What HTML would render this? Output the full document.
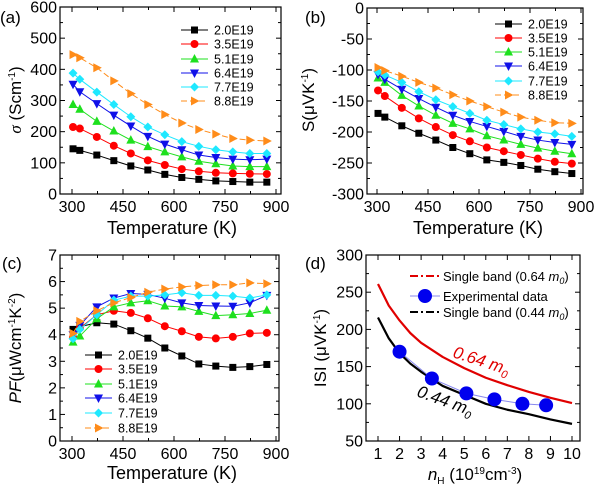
<!DOCTYPE html>
<html><head><meta charset="utf-8"><style>
html,body{margin:0;padding:0;background:#fff;}
svg{display:block;font-family:"Liberation Sans",sans-serif;}
</style></head><body>
<svg id="fig" width="600" height="492" viewBox="0 0 600 492" xmlns="http://www.w3.org/2000/svg"></svg>
<script>
const temps=[303,323,373,423,473,523,573,623,673,723,773,823,873];
const seriesNames=["2.0E19","3.5E19","5.1E19","6.4E19","7.7E19","8.8E19"];
const sigma0=[145,140,125,107,90,77,63,53,47,42,40,38,38];
const sigma1=[215,210,183,155,130,108,93,80,73,68,66,65,64];
const sigma2=[287,272,233,202,173,152,135,119,105,97,90,88,88];
const sigma3=[352,328,290,253,218,185,160,142,125,117,112,110,112];
const sigma4=[388,368,327,287,248,215,190,168,153,142,135,130,130];
const sigma5=[447,437,405,363,322,287,255,228,207,192,178,173,170];
const seeb0=[-170,-176,-190,-202,-213,-225,-235,-245,-249,-254,-260,-264,-267];
const seeb1=[-133,-142,-161,-178,-192,-205,-215,-225,-231,-237,-243,-248,-251];
const seeb2=[-113,-120,-141,-158,-173,-186,-195,-206,-213,-220,-226,-231,-235];
const seeb3=[-107,-115,-131,-146,-160,-173,-183,-191,-199,-207,-213,-217,-220];
const seeb4=[-103,-108,-120,-135,-148,-159,-170,-181,-188,-195,-200,-203,-207];
const seeb5=[-96,-101,-110,-120,-129,-140,-150,-159,-168,-176,-181,-185,-186];
const pf0=[4.2,4.3,4.45,4.4,4.15,3.87,3.5,3.2,2.9,2.82,2.77,2.8,2.88];
const pf1=[3.9,4.25,4.75,4.9,4.82,4.62,4.32,4.13,3.92,3.86,3.92,4.05,4.07];
const pf2=[3.72,3.95,4.6,5.05,5.2,5.28,5.08,5.05,4.88,4.72,4.75,4.8,4.92];
const pf3=[4.0,4.35,5.05,5.38,5.55,5.52,5.37,5.2,5.1,5.08,5.07,5.2,5.48];
const pf4=[3.85,4.2,4.75,5.3,5.45,5.45,5.5,5.58,5.48,5.48,5.45,5.38,5.5];
const pf5=[4.05,4.5,4.9,5.2,5.4,5.6,5.72,5.8,5.85,5.88,5.88,5.95,5.92];
const expN=[2.0,3.5,5.1,6.4,7.7,8.8];
const expS=[170,134,114,106,100,98];
const modelN=[1,1.5,2,2.5,3,4,5,6,7,8,9,10];
const model064=[261,232,212,195,182,163,148,135,125,116,108,101];
const model044=[216,188,168,154,143,124,112,100,92,86,79,73];
const tempTicks=[300,450,600,750,900];
const sigmaTicks=[0,100,200,300,400,500,600];
const seebTicks=[0,-50,-100,-150,-200,-250,-300];
const pfTicks=[0,1,2,3,4,5,6,7];
const nTicks=[1,2,3,4,5,6,7,8,9,10];
const sTicks=[50,100,150,200,250,300];

const colors=["#000","#f00","#1ee01e","#1010e8","#1ee8ff","#ff8c1a"];
const markers=["square","circle","up","down","diamond","right"];
const NS="http://www.w3.org/2000/svg";
const fig=document.getElementById('fig');
function el(tag,attrs,parent,text){const e=document.createElementNS(NS,tag);for(const k in attrs)e.setAttribute(k,attrs[k]);if(text!==undefined)e.textContent=text;(parent||fig).appendChild(e);return e;}
function lin(d0,d1,p0,p1){return v=>p0+(v-d0)/(d1-d0)*(p1-p0);}
function marker(type,x,y,c,g,s){s=s||4;let e;
 if(type==="square")e=el('rect',{x:x-s+0.5,y:y-s+0.5,width:2*s-1,height:2*s-1,fill:c},g);
 else if(type==="circle")e=el('circle',{cx:x,cy:y,r:s,fill:c},g);
 else{let p;
  if(type==="up")p=[[x,y-s-1],[x+s+0.5,y+s-0.5],[x-s-0.5,y+s-0.5]];
  else if(type==="down")p=[[x,y+s+1],[x+s+0.5,y-s+0.5],[x-s-0.5,y-s+0.5]];
  else if(type==="diamond")p=[[x,y-s-0.5],[x+s+0.5,y],[x,y+s+0.5],[x-s-0.5,y]];
  else p=[[x+s+1,y],[x-s+0.5,y-s-0.5],[x-s+0.5,y+s+0.5]];
  e=el('polygon',{points:p.map(q=>q.join(',')).join(' '),fill:c},g);}
 
 }
function axes(o){
 const g=el('g',{});
 
 
 const X=lin(o.xd[0],o.xd[1],o.xp[0],o.xp[1]),Y=lin(o.yd[0],o.yd[1],o.yp[0],o.yp[1]);
 el('rect',{x:o.box[0],y:o.box[1],width:o.box[2]-o.box[0],height:o.box[3]-o.box[1],fill:'none',stroke:'#000','stroke-width':1.2},g);
 o.xt.forEach((t,i)=>{const x=X(t);el('line',{x1:x,x2:x,y1:o.box[3],y2:o.box[3]-5,stroke:'#000'},g);el('line',{x1:x,x2:x,y1:o.box[1],y2:o.box[1]+5,stroke:'#000'},g);
  const tl=el('text',{x:x,y:o.box[3]+18,'font-size':16,'text-anchor':'middle'},g,t);
  if(o.xminor&&i<o.xt.length-1){const xm=X(t+(o.xt[1]-o.xt[0])/2);el('line',{x1:xm,x2:xm,y1:o.box[3],y2:o.box[3]-3,stroke:'#000'},g);el('line',{x1:xm,x2:xm,y1:o.box[1],y2:o.box[1]+3,stroke:'#000'},g);}});
 o.yt.forEach((t,i)=>{const y=Y(t);el('line',{x1:o.box[0],x2:o.box[0]+5,y1:y,y2:y,stroke:'#000'},g);el('line',{x1:o.box[2],x2:o.box[2]-5,y1:y,y2:y,stroke:'#000'},g);
  const tl=el('text',{x:o.box[0]-3,y:y+5.5,'font-size':16,'text-anchor':'end'},g,t);
  if(i<o.yt.length-1){const ym=Y(t+(o.yt[1]-o.yt[0])/2);el('line',{x1:o.box[0],x2:o.box[0]+3,y1:ym,y2:ym,stroke:'#000'},g);el('line',{x1:o.box[2],x2:o.box[2]-3,y1:ym,y2:ym,stroke:'#000'},g);}});
 return {g,X,Y};}
function series(ax,xs,ys,i,dashed){
 const pts=xs.map((x,j)=>ax.X(x)+','+ax.Y(ys[j])).join(' ');
 const pl=el('polyline',{points:pts,fill:'none',stroke:colors[i],'stroke-width':1,'stroke-dasharray':dashed?'6,3':'none'},ax.g);
 
 
 xs.forEach((x,j)=>marker(markers[i],ax.X(x),ax.Y(ys[j]),colors[i],ax.g));}
function legend(g,x0,ys){ys.forEach((y,i)=>{
 const l=el('line',{x1:x0,x2:x0+27,y1:y,y2:y,stroke:colors[i],'stroke-dasharray':i===5?'6,3':'none'},g);
 
 marker(markers[i],x0+13.5,y,colors[i],g);
 const t=el('text',{x:x0+33,y:y+4.5,'font-size':12.5},g,seriesNames[i]);
 
 });}
function txt(x,y,s,size,attrs,name){const t=el('text',Object.assign({x:x,y:y,'font-size':size},attrs||{}),fig);t.innerHTML=s;return t;}

// (a)
const A=axes({name:'panel-a-conductivity',box:[60,7,281,194],xd:[300,900],xp:[72,276],yd:[0,600],yp:[194,7],xt:tempTicks,yt:sigmaTicks,xminor:true});
[sigma0,sigma1,sigma2,sigma3,sigma4,sigma5].forEach((s,i)=>series(A,temps,s,i,i===5));
legend(A.g,181,[30,44,59,73,87,101]);
txt(0,23,'(a)',17,{},'panel-label-a');
txt(21,100,'<tspan font-style="italic" font-family="Liberation Serif">σ</tspan> (Scm<tspan dy="-6" font-size="10">-1</tspan><tspan dy="6">)</tspan>',17,{'text-anchor':'middle',transform:'rotate(-90 21 100)'},'y-axis-title-a');
txt(172,234,'Temperature (K)',18,{'text-anchor':'middle'},'x-axis-title-a');

// (b)
const B=axes({name:'panel-b-seebeck',box:[367,8,583,194],xd:[300,900],xp:[377,581],yd:[0,-300],yp:[8,194],xt:tempTicks,yt:seebTicks,xminor:true});
[seeb0,seeb1,seeb2,seeb3,seeb4,seeb5].forEach((s,i)=>series(B,temps,s,i,i===5));
legend(B.g,495,[24,38,52,66,81,95]);
txt(305,23,'(b)',17,{},'panel-label-b');
txt(314,100,'S(μVK<tspan dy="-6" font-size="10">-1</tspan><tspan dy="6">)</tspan>',17,{'text-anchor':'middle',transform:'rotate(-90 314 100)'},'y-axis-title-b');
txt(478,234,'Temperature (K)',18,{'text-anchor':'middle'},'x-axis-title-b');

// (c)
const C=axes({name:'panel-c-power-factor',box:[60,255,279,441],xd:[300,900],xp:[72,276],yd:[0,7],yp:[441,255],xt:tempTicks,yt:pfTicks,xminor:true});
[pf0,pf1,pf2,pf3,pf4,pf5].forEach((s,i)=>series(C,temps,s,i,i===5));
legend(C.g,85,[355,369,384,398,413,428]);
txt(2,269,'(c)',17,{},'panel-label-c');
txt(21,348,'<tspan font-style="italic">PF</tspan>(μWcm<tspan dy="-6" font-size="10">-1</tspan><tspan dy="6">K</tspan><tspan dy="-6" font-size="10">-2</tspan><tspan dy="6">)</tspan>',17,{'text-anchor':'middle',transform:'rotate(-90 21 348)'},'y-axis-title-c');
txt(172,479,'Temperature (K)',18,{'text-anchor':'middle'},'x-axis-title-c');

// (d)
const D=axes({name:'panel-d-seebeck-vs-carrier',box:[366,255,580,441],xd:[1,10],xp:[378,572],yd:[50,300],yp:[441,255],xt:nTicks,yt:sTicks,xminor:false});
function curve(xs,ys,c,name){const p=el('polyline',{points:xs.map((x,j)=>D.X(x)+','+D.Y(ys[j])).join(' '),fill:'none',stroke:c,'stroke-width':2.2,'stroke-linejoin':'round'},D.g);}
curve(modelN,model064,'#e00000','model-curve-0.64m0');
curve(modelN,model044,'#000','model-curve-0.44m0');
const ep=el('polyline',{points:expN.map((x,j)=>D.X(x)+','+D.Y(expS[j])).join(' '),fill:'none',stroke:'#8888ee','stroke-width':1},D.g);

expN.forEach((x,j)=>{const c=el('circle',{cx:D.X(x),cy:D.Y(expS[j]),r:7,fill:'#0000ee'},D.g);});
el('line',{x1:410,x2:440,y1:276,y2:276,stroke:'#e00000','stroke-width':2,'stroke-dasharray':'8,3,2,3'},D.g);
el('line',{x1:410,x2:440,y1:296,y2:296,stroke:'#8888ee'},D.g);
el('circle',{cx:425,cy:296,r:7,fill:'#0000ee'},D.g);
el('line',{x1:410,x2:440,y1:312,y2:312,stroke:'#000','stroke-width':2,'stroke-dasharray':'8,3,2,3'},D.g);
txt(443,281,'Single band (0.64 <tspan font-style="italic">m</tspan><tspan font-size="9" dy="3" font-style="italic">0</tspan><tspan dy="-3">)</tspan>',13,{},'legend-entry');
txt(443,301,'Experimental data',13,{},'legend-entry');
txt(443,317,'Single band (0.44 <tspan font-style="italic">m</tspan><tspan font-size="9" dy="3" font-style="italic">0</tspan><tspan dy="-3">)</tspan>',13,{},'legend-entry');
txt(452,357,'0.64 <tspan>m</tspan><tspan font-size="11" dy="4">0</tspan>',17,{fill:'#e00000','font-style':'italic',transform:'rotate(18 452 357)'},'annotation-0.64m0');
txt(416,396,'0.44 <tspan>m</tspan><tspan font-size="11" dy="4">0</tspan>',17,{fill:'#000','font-style':'italic',transform:'rotate(20 416 396)'},'annotation-0.44m0');
txt(305,269,'(d)',17,{},'panel-label-d');
txt(326,348,'ISI (μVK<tspan dy="-6" font-size="10">-1</tspan><tspan dy="6">)</tspan>',17,{'text-anchor':'middle',transform:'rotate(-90 326 348)'},'y-axis-title-d');
txt(475,480,'<tspan font-style="italic">n</tspan><tspan font-size="10" dy="4">H</tspan><tspan dy="-4"> (10</tspan><tspan font-size="10" dy="-6">19</tspan><tspan dy="6">cm</tspan><tspan font-size="10" dy="-6">-3</tspan><tspan dy="6">)</tspan>',17,{'text-anchor':'middle'},'x-axis-title-d');
</script>
</body></html>
